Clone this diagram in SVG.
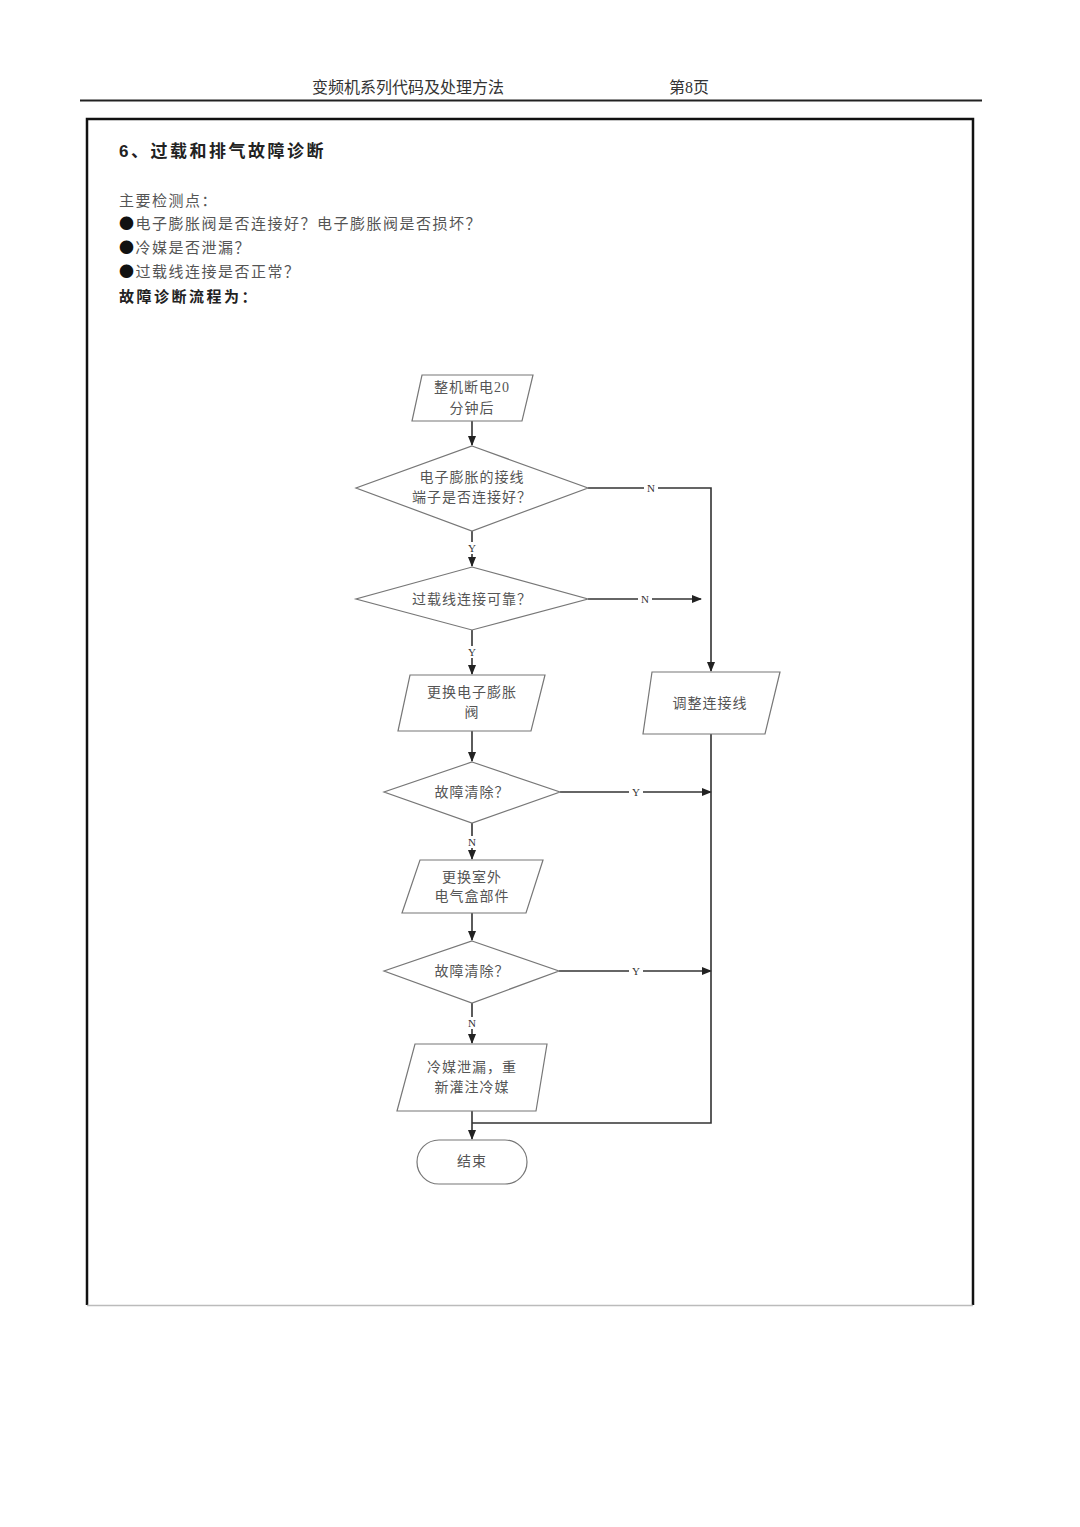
<svg xmlns="http://www.w3.org/2000/svg" width="1080" height="1527" viewBox="0 0 1080 1527">
<defs>
<marker id="ah" markerWidth="10" markerHeight="10" refX="9" refY="5" orient="auto" markerUnits="userSpaceOnUse">
<path d="M0,1 L10,5 L0,9 Z" fill="#222"/>
</marker>
<style>
.h{font-family:"Liberation Serif","Noto Sans CJK SC",serif;fill:#333;font-size:16px;}
.b{font-family:"Liberation Sans","Noto Sans CJK SC",sans-serif;fill:#222;font-weight:bold;}
.body{font-family:"Liberation Serif","Noto Sans CJK SC",serif;fill:#555;font-size:15px;letter-spacing:1.5px;}
.bul{font-family:"Noto Sans CJK SC",sans-serif;fill:#111;}
.shape{fill:#fff;stroke:#777;stroke-width:1.2;}
.conn{fill:none;stroke:#333;stroke-width:1.6;}
.ft{font-family:"Liberation Serif","Noto Sans CJK SC",serif;fill:#555;font-size:14px;text-anchor:middle;letter-spacing:1px;}
.lbl{font-family:"Liberation Serif","Noto Sans CJK SC",serif;fill:#333;font-size:11px;text-anchor:middle;}
</style>
</defs>
<rect width="1080" height="1527" fill="#fff"/>
<text class="h" x="408" y="93" text-anchor="middle">变频机系列代码及处理方法</text>
<text class="h" x="689" y="93" text-anchor="middle">第8页</text>
<line x1="80" y1="100.5" x2="982" y2="100.5" stroke="#222" stroke-width="2"/>
<path d="M87,1305 L87,119 L973,119 L973,1305" fill="none" stroke="#111" stroke-width="2.5"/>
<line x1="87" y1="1305.5" x2="973" y2="1305.5" stroke="#bbb" stroke-width="1.5"/>
<text class="b" x="119" y="157" font-size="17" letter-spacing="2.5">6、过载和排气故障诊断</text>
<text class="body" x="119" y="206">主要检测点：</text>
<text class="body" x="119" y="229"><tspan class="bul">●</tspan>电子膨胀阀是否连接好？电子膨胀阀是否损坏？</text>
<text class="body" x="119" y="253"><tspan class="bul">●</tspan>冷媒是否泄漏？</text>
<text class="body" x="119" y="277"><tspan class="bul">●</tspan>过载线连接是否正常？</text>
<text class="b" x="119" y="302" font-size="15" letter-spacing="2.5">故障诊断流程为：</text>

<g id="connectors">
<line class="conn" x1="472" y1="421" x2="472" y2="445" marker-end="url(#ah)"/>
<polyline class="conn" points="588,488 711,488 711,671" marker-end="url(#ah)"/>
<line class="conn" x1="472" y1="531" x2="472" y2="566" marker-end="url(#ah)"/>
<line class="conn" x1="588" y1="599" x2="701" y2="599" marker-end="url(#ah)"/>
<line class="conn" x1="472" y1="630" x2="472" y2="674" marker-end="url(#ah)"/>
<line class="conn" x1="472" y1="731" x2="472" y2="761" marker-end="url(#ah)"/>
<line class="conn" x1="560" y1="792" x2="711" y2="792" marker-end="url(#ah)"/>
<line class="conn" x1="472" y1="823" x2="472" y2="859" marker-end="url(#ah)"/>
<line class="conn" x1="472" y1="913" x2="472" y2="940" marker-end="url(#ah)"/>
<line class="conn" x1="559" y1="971" x2="711" y2="971" marker-end="url(#ah)"/>
<line class="conn" x1="472" y1="1003" x2="472" y2="1043" marker-end="url(#ah)"/>
<line class="conn" x1="472" y1="1111" x2="472" y2="1139" marker-end="url(#ah)"/>
<polyline class="conn" points="711,734 711,1123 472,1123"/>
<rect x="644" y="482" width="14" height="12" fill="#fff"/>
<text class="lbl" x="651" y="492">N</text>
<rect x="465" y="542" width="14" height="12" fill="#fff"/>
<text class="lbl" x="472" y="552">Y</text>
<rect x="638" y="593" width="14" height="12" fill="#fff"/>
<text class="lbl" x="645" y="603">N</text>
<rect x="465" y="646" width="14" height="12" fill="#fff"/>
<text class="lbl" x="472" y="656">Y</text>
<rect x="629" y="786" width="14" height="12" fill="#fff"/>
<text class="lbl" x="636" y="796">Y</text>
<rect x="465" y="836" width="14" height="12" fill="#fff"/>
<text class="lbl" x="472" y="846">N</text>
<rect x="629" y="965" width="14" height="12" fill="#fff"/>
<text class="lbl" x="636" y="975">Y</text>
<rect x="465" y="1017" width="14" height="12" fill="#fff"/>
<text class="lbl" x="472" y="1027">N</text>
</g>

<g id="start">
<polygon class="shape" points="422,375 533,375 522,421 412,421"/>
<text class="ft" x="472" y="392">整机断电20</text>
<text class="ft" x="472" y="413">分钟后</text>
</g>
<g id="d1">
<polygon class="shape" points="472,446 588,488 472,531 356,488"/>
<text class="ft" x="472" y="482">电子膨胀的接线</text>
<text class="ft" x="472" y="502">端子是否连接好？</text>
</g>
<g id="d2">
<polygon class="shape" points="472,567 588,599 472,630 356,599"/>
<text class="ft" x="472" y="604">过载线连接可靠？</text>
</g>
<g id="p1">
<polygon class="shape" points="410,675 545,675 531,731 398,731"/>
<text class="ft" x="472" y="697">更换电子膨胀</text>
<text class="ft" x="472" y="717">阀</text>
</g>
<g id="adjust">
<polygon class="shape" points="652,672 780,672 765,734 643,734"/>
<text class="ft" x="710" y="708">调整连接线</text>
</g>
<g id="d3">
<polygon class="shape" points="472,762 560,792 472,823 384,792"/>
<text class="ft" x="472" y="797">故障清除？</text>
</g>
<g id="p2">
<polygon class="shape" points="420,860 543,860 526,913 402,913"/>
<text class="ft" x="472" y="882">更换室外</text>
<text class="ft" x="472" y="901">电气盒部件</text>
</g>
<g id="d4">
<polygon class="shape" points="472,941 559,971 472,1003 384,971"/>
<text class="ft" x="472" y="976">故障清除？</text>
</g>
<g id="p3">
<polygon class="shape" points="415,1044 547,1044 536,1111 397,1111"/>
<text class="ft" x="472" y="1072">冷媒泄漏，重</text>
<text class="ft" x="472" y="1092">新灌注冷媒</text>
</g>
<g id="end">
<rect class="shape" x="417" y="1140" width="110" height="44" rx="22" ry="22"/>
<text class="ft" x="472" y="1166" font-size="12">结束</text>
</g>
</svg>
